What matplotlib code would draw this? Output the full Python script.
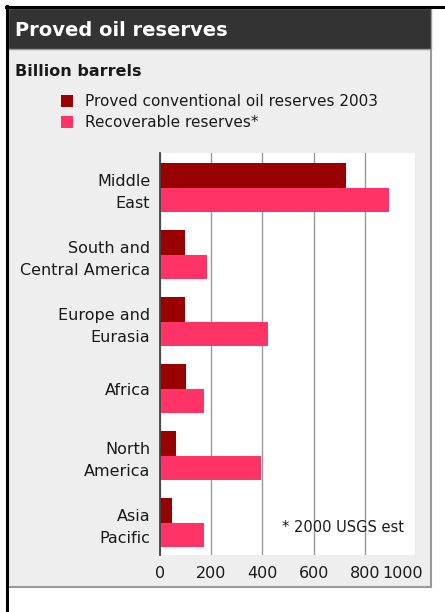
import numpy as np
import matplotlib
matplotlib.use('Agg')
import matplotlib.pyplot as plt
import matplotlib.transforms as mtransforms
from matplotlib.patches import Rectangle, Patch
from matplotlib.lines import Line2D

# Data (billion barrels)
regions = ['Middle\nEast', 'South and\nCentral America', 'Europe and\nEurasia',
           'Africa', 'North\nAmerica', 'Asia\nPacific']
proved_2003 = [727, 99, 98, 102, 64, 48]
recoverable = [895, 183, 422, 170, 394, 170]
x_ticks = [0, 200, 400, 600, 800, 1000]

dark_red = '#990000'
pink = '#ff3366'
text_col = '#1a1a1a'

W, H = 445, 612
fig = plt.figure(figsize=(W / 100, H / 100), dpi=100)
fig.patch.set_facecolor('white')

def fx(px):
    return px / W

def fy(py):
    return 1 - py / H

# Panel background and title bar (kept below the axes)
fig.patches.append(Rectangle((fx(8), fy(587)), fx(431 - 8), (587 - 49) / H,
                             transform=fig.transFigure, facecolor='#eeeeee',
                             edgecolor='#9a9a9a', linewidth=1.5, zorder=-3))
fig.patches.append(Rectangle((fx(8), fy(49)), fx(431 - 8), (49 - 8) / H,
                             transform=fig.transFigure, facecolor='#333333',
                             edgecolor='#9a9a9a', linewidth=1.0, zorder=-2))
# Black frame lines (left and top)
fig.lines.append(Line2D([fx(7), fx(7)], [fy(6), 0], transform=fig.transFigure,
                        color='black', linewidth=2.2, zorder=3))
fig.lines.append(Line2D([fx(6), 1], [fy(7), fy(7)], transform=fig.transFigure,
                        color='black', linewidth=2.2, zorder=3))

fig.text(fx(15), fy(30), 'Proved oil reserves', color='white',
         fontsize=14, fontweight='bold', ha='left', va='center')
fig.text(fx(15), fy(71), 'Billion barrels', color=text_col,
         fontsize=11.5, fontweight='bold', ha='left', va='center')

# Plot area
ax = fig.add_axes([fx(160), fy(555), fx(416 - 160), (555 - 153) / H])
ax.set_facecolor('white')

y = np.arange(len(regions))
bh = 0.366
ax.barh(y - bh / 2, proved_2003, height=bh, color=dark_red, zorder=3)
ax.barh(y + bh / 2, recoverable, height=bh, color=pink, zorder=3)

ax.set_xlim(0, 1000)
ax.set_ylim(5.485, -0.515)
ax.set_xticks(x_ticks)
ax.set_xticklabels([str(t) for t in x_ticks])
ax.set_yticks(y)
ax.set_yticklabels(regions, multialignment='right', linespacing=1.55)
ax.tick_params(axis='x', length=0, pad=8, labelsize=11.5, labelcolor=text_col)
ax.tick_params(axis='y', length=0, pad=7, labelsize=11.5, labelcolor=text_col)
ax.grid(axis='x', color='#999999', linewidth=1.0, zorder=0)
ax.set_axisbelow(True)
for s in ['top', 'right', 'bottom']:
    ax.spines[s].set_visible(False)
ax.spines['left'].set_color('#444444')
ax.spines['left'].set_linewidth(1.3)
ax.spines['left'].set_zorder(4)

# Shift the 1000 label left so it does not touch the 800
last = ax.xaxis.get_major_ticks()[-1].label1
last.set_transform(last.get_transform() +
                   mtransforms.ScaledTranslation(-10 / 72, 0, fig.dpi_scale_trans))

ax.text(478, 5.08, '* 2000 USGS est', fontsize=10.5, color=text_col,
        ha='left', va='center', zorder=5)

# Legend
handles = [Patch(facecolor=dark_red, edgecolor='none'),
           Patch(facecolor=pink, edgecolor='none')]
labels = ['Proved conventional oil reserves 2003', 'Recoverable reserves*']
fig.legend(handles, labels, loc='upper left',
           bbox_to_anchor=(fx(61), fy(94)), frameon=False, fontsize=11,
           handlelength=0.8, handleheight=0.8, handletextpad=0.8,
           labelspacing=0.42, borderpad=0, borderaxespad=0,
           labelcolor=text_col)

fig.savefig('out.png', dpi=100)
